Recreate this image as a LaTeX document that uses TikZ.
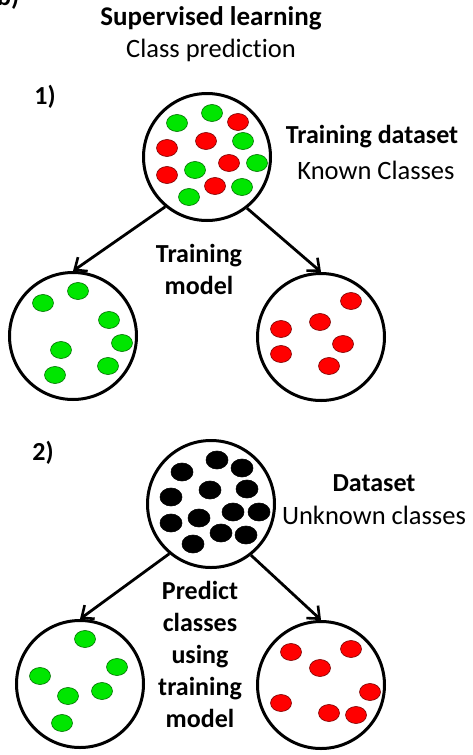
\documentclass[tikz,border=0pt]{standalone}
\usepackage{fontspec}
\setmainfont{Carlito}[Ligatures=NoCommon]
\usetikzlibrary{arrows.meta}
\definecolor{dotgreen}{RGB}{0,230,0}
\definecolor{dotgreenline}{RGB}{0,110,0}
\definecolor{dotred}{RGB}{255,0,0}
\definecolor{dotredline}{RGB}{120,0,0}
\begin{document}
\begin{tikzpicture}[x=1pt,y=-1pt,
  bigcirc/.style={circle,draw=black,line width=3pt,minimum size=127pt,inner sep=0pt},
  gdot/.style={fill=dotgreen,draw=dotgreenline,line width=0.6pt},
  rdot/.style={fill=dotred,draw=dotredline,line width=0.6pt},
  kdot/.style={fill=black,draw=black,line width=0.6pt},
  conn/.style={line width=2.8pt,-{Straight Barb[length=10pt,width=17pt,line width=2.6pt]}},
  ttl/.style={font=\fontsize{27}{32}\selectfont\bfseries,align=center,inner sep=0pt},
  sub/.style={font=\fontsize{26.5}{32}\selectfont,align=center,inner sep=0pt},
  lbl/.style={font=\fontsize{26}{32}\selectfont\bfseries,align=center,inner sep=0pt}
]
\useasboundingbox (0,0) rectangle (472,755);
\fill[white] (0,0) rectangle (472,755);
\begin{scope}
\clip (0,0) rectangle (472,755);
\node[lbl,anchor=base west] (panel) at (-3,5) {b)};
\end{scope}

% titles
\node[ttl] (title) at (211,18) {Supervised learning};
\node[sub] (subtitle) at (211,50) {Class prediction};

% part 1
\node[lbl] (one) at (45,97) {1)};
\node[bigcirc] (c1) at (207,157) {};
\node[bigcirc] (c1l) at (73,336) {};
\node[bigcirc] (c1r) at (321,337) {};
\node[lbl] (tds) at (372,137) {Training dataset};
\node[sub] (kc) at (376,170) {Known Classes};
\node[lbl] (tm) at (199,269) {Training\\model};

\foreach \x/\y in {177/123,212/113,243/141,195/170,257/163,242/187,189/197}
  \draw[gdot] (\x,\y) ellipse (10.5pt and 8.5pt);
\foreach \x/\y in {238/122,167/148,206/141,167/175,229/163,215/186}
  \draw[rdot] (\x,\y) ellipse (10.5pt and 8.5pt);
\foreach \x/\y in {43/303,78/291,109/320,122/343,61/350,108/366,55/375}
  \draw[gdot] (\x,\y) ellipse (10.5pt and 8.5pt);
\foreach \x/\y in {351/301,320/322,281/329,343/344,281/354,329/366}
  \draw[rdot] (\x,\y) ellipse (10.5pt and 8.5pt);

\draw[conn] (c1.-130) -- (c1l.north);
\draw[conn] (c1.-52) -- (c1r.north);

% part 2
\node[lbl] (two) at (43,453) {2)};
\node[bigcirc] (c2) at (211,504) {};
\node[bigcirc] (c2l) at (80,684) {};
\node[bigcirc] (c2r) at (321,685) {};
\node[lbl] (ds) at (374,483) {Dataset};
\node[sub] (uc) at (374,515) {Unknown classes};
\node[lbl] (pc) at (200,654) {Predict\\classes\\using\\training\\model};

\foreach \x/\y in {182/472,217/460,242/468,210/490,247/489,171/497,171/523,199/518,233/512,259/512,221/533,246/535,193/544}
  \draw[kdot] (\x,\y) ellipse (11pt and 9pt);
\foreach \x/\y in {85/639,40/676,117/667,68/696,102/691,62/723}
  \draw[gdot] (\x,\y) ellipse (10.5pt and 8.5pt);
\foreach \x/\y in {291/652,351/649,320/668,370/692,281/703,329/713,356/715}
  \draw[rdot] (\x,\y) ellipse (10.5pt and 8.5pt);

\draw[conn] (c2.-130) -- (c2l.north);
\draw[conn] (c2.-52) -- (c2r.north);
\end{tikzpicture}
\end{document}
